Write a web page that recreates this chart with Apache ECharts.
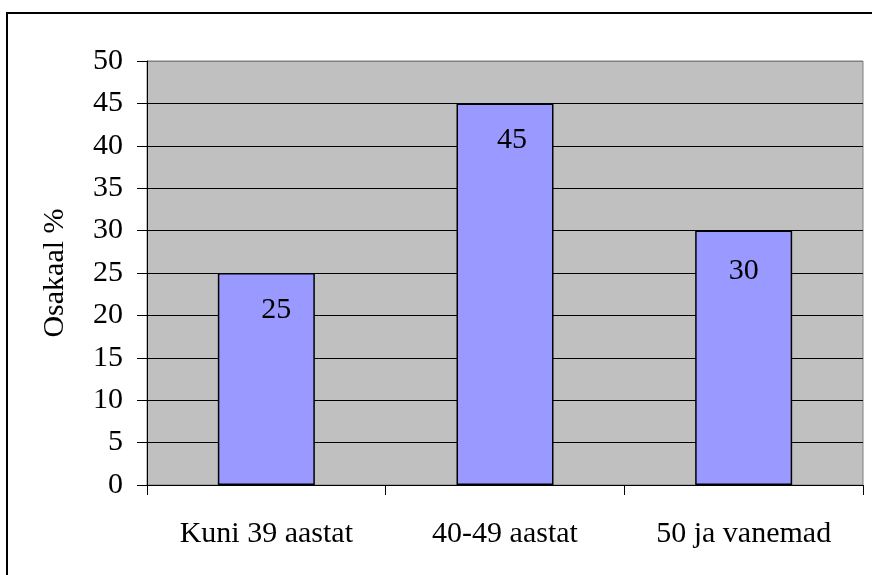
<!DOCTYPE html>
<html>
<head>
<meta charset="utf-8">
<style>
  html, body { margin: 0; padding: 0; background: #ffffff; }
  #chart { width: 872px; height: 575px; }
</style>
<script src="https://cdn.jsdelivr.net/npm/echarts@6/dist/echarts.min.js"></script>
</head>
<body>
<div id="chart"></div>
<script>
// Age groups and their share (%)
const categories = ['Kuni 39 aastat', '40-49 aastat', '50 ja vanemad'];
const shares = [25, 45, 30];
const yAxisTitle = 'Osakaal %';

const FONT = 'Liberation Serif';
const FONT_SIZE = 30;

// Small nudges for the value labels inside the bars
const labelNudge = [[10, 0], [7, 0], [0, 4]];

// Horizontal grid lines: black inside, grey where the plot frame is
const gridColors = [];
for (let i = 0; i <= 10; i++) gridColors.push(i === 10 ? '#808080' : '#000000');

const chart = echarts.init(document.getElementById('chart'), null, { renderer: 'canvas' });

chart.setOption({
  animation: false,
  backgroundColor: '#ffffff',
  textStyle: { fontFamily: FONT, color: '#000' },
  graphic: [{
    type: 'rect',
    shape: { x: 7, y: 13, width: 900, height: 620 },
    style: { fill: 'none', stroke: '#000', lineWidth: 2 },
    z: 100
  }],
  grid: {
    left: 147, top: 61, right: 9, bottom: 90,
    show: true,
    backgroundColor: '#C0C0C0',
    borderColor: '#808080',
    borderWidth: 1
  },
  xAxis: {
    type: 'category',
    data: categories,
    axisLine: { lineStyle: { color: '#000', width: 1 } },
    axisTick: { show: true, length: 10, lineStyle: { color: '#000' } },
    axisLabel: { color: '#000', fontFamily: FONT, fontSize: FONT_SIZE, margin: 34 },
    splitLine: { show: false }
  },
  yAxis: {
    type: 'value',
    min: 0, max: 50, interval: 5,
    name: yAxisTitle,
    nameLocation: 'middle',
    nameGap: 77,
    nameTextStyle: { color: '#000', fontFamily: FONT, fontSize: FONT_SIZE },
    axisLine: { show: true, lineStyle: { color: '#000', width: 1 } },
    axisTick: { show: true, length: 10, lineStyle: { color: '#000' } },
    axisLabel: { color: '#000', fontFamily: FONT, fontSize: FONT_SIZE, margin: 24 },
    splitLine: { show: true, lineStyle: { color: gridColors, width: 1 } }
  },
  series: [{
    type: 'bar',
    barWidth: 97,
    data: shares.map((v, i) => ({ value: v, label: { offset: labelNudge[i] } })),
    itemStyle: { color: '#9999FF', borderColor: '#000', borderWidth: 1.5 },
    label: {
      show: true,
      position: 'insideTop',
      distance: 22,
      color: '#000',
      fontFamily: FONT,
      fontSize: FONT_SIZE
    }
  }]
});
</script>
</body>
</html>
